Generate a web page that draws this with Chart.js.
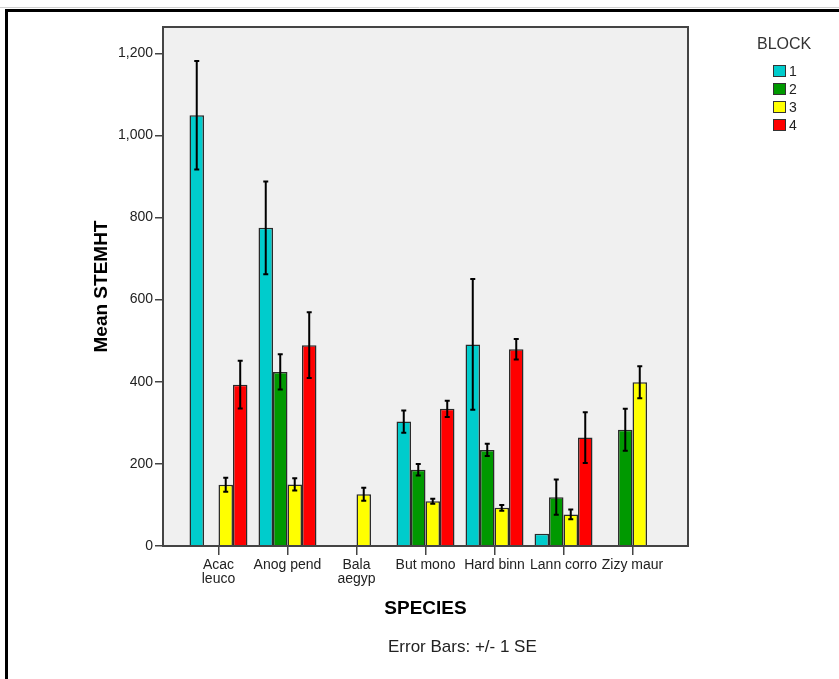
<!DOCTYPE html>
<html><head><meta charset="utf-8">
<script src="https://cdn.jsdelivr.net/npm/chart.js@4.4.1/dist/chart.umd.min.js"></script>
<style>html,body{margin:0;padding:0;background:#fff;}canvas{display:block;}</style>
</head><body><canvas id="c" width="839" height="679"></canvas>
<script>
// ---- data ----
const categories = ['Acac leuco','Anog pend','Bala aegyp','But mono','Hard binn','Lann corro','Zizy maur'];
const tickLabels = [['Acac','leuco'],'Anog pend',['Bala','aegyp'],'But mono','Hard binn','Lann corro','Zizy maur'];
const blockNames = ['1','2','3','4'];
const block1 = [1049, 775, null, 303, 491, 30, null];
const se1    = [132, 113, null, 27, 159, null, null];
const block2 = [null, 424, null, 186, 234, 119, 283];
const se2    = [null, 43, null, 14, 15, 43, 51];
const block3 = [149, 150, 126, 109, 93, 77, 399];
const se3    = [17, 15, 16, 6, 7, 12, 39];
const block4 = [393, 489, null, 334, 479, 264, null];
const se4    = [58, 80, null, 20, 25, 62, null];
const yTicks = [0, 200, 400, 600, 800, 1000, 1200];
const yTitle = 'Mean STEMHT';
const xTitle = 'SPECIES';
const legendTitle = 'BLOCK';
const note = 'Error Bars: +/- 1 SE';

const colors = ['#00CCCC', '#009900', '#FFFF00', '#FF0000'];
const FONT = "'Liberation Sans', Arial, sans-serif";
Chart.defaults.font.family = FONT;

const means = [block1, block2, block3, block4];
const ses = [se1, se2, se3, se4];

const datasets = means.map((arr, k) => ({
  label: blockNames[k],
  data: arr.map((v, i) => ({x: i, y: v})),
  means: arr,
  se: ses[k],
  backgroundColor: colors[k],
  borderColor: '#2a2a2a',
  borderWidth: 1.5,
  categoryPercentage: 0.84,
  barPercentage: 1.0
}));

const errorBars = {
  id: 'errorBars',
  afterDatasetsDraw(chart) {
    const ctx = chart.ctx, ys = chart.scales.y;
    chart.data.datasets.forEach((ds, i) => {
      const meta = chart.getDatasetMeta(i);
      meta.data.forEach((el, j) => {
        const m = ds.means[j], e = ds.se[j];
        if (m == null || e == null) return;
        const x = el.x, y1 = ys.getPixelForValue(m + e), y2 = ys.getPixelForValue(m - e);
        ctx.save();
        ctx.strokeStyle = '#000'; ctx.lineWidth = 2;
        ctx.beginPath();
        ctx.moveTo(x, y1); ctx.lineTo(x, y2);
        ctx.moveTo(x - 2.5, y1); ctx.lineTo(x + 2.5, y1);
        ctx.moveTo(x - 2.5, y2); ctx.lineTo(x + 2.5, y2);
        ctx.stroke();
        ctx.restore();
      });
    });
  }
};

const decor = {
  id: 'decor',
  beforeDraw(chart) {
    const ctx = chart.ctx, a = chart.chartArea;
    ctx.save();
    ctx.fillStyle = '#fff'; ctx.fillRect(0, 0, chart.width, chart.height);
    ctx.strokeStyle = '#d0d0d0'; ctx.lineWidth = 1;
    ctx.beginPath(); ctx.moveTo(0, 7.5); ctx.lineTo(chart.width, 7.5); ctx.stroke();
    ctx.fillStyle = '#000';
    ctx.fillRect(5, 9, chart.width - 5, 3);
    ctx.fillRect(5, 9, 3, chart.height - 9);
    ctx.fillStyle = '#F0F0F0';
    ctx.fillRect(a.left, a.top, a.right - a.left, a.bottom - a.top);
    ctx.restore();
  },
  afterDraw(chart) {
    const ctx = chart.ctx, a = chart.chartArea;
    ctx.save();
    ctx.strokeStyle = '#444'; ctx.lineWidth = 2;
    ctx.strokeRect(a.left, a.top, a.right - a.left, a.bottom - a.top);
    ctx.fillStyle = '#333';
    ctx.font = '16px ' + FONT;
    ctx.textAlign = 'left'; ctx.textBaseline = 'middle';
    ctx.fillText(legendTitle, 757, 45);
    const ys = [71, 89, 107, 125];
    ctx.font = '14px ' + FONT;
    blockNames.forEach((n, k) => {
      ctx.fillStyle = colors[k];
      ctx.fillRect(773, ys[k] - 6, 13, 12);
      ctx.strokeStyle = '#333'; ctx.lineWidth = 1;
      ctx.strokeRect(773.5, ys[k] - 5.5, 12, 11);
      ctx.fillStyle = '#222';
      ctx.fillText(n, 789, ys[k] + 1);
    });
    ctx.font = '17px ' + FONT;
    ctx.fillStyle = '#222';
    ctx.textAlign = 'left';
    ctx.fillText(note, 388, 647);
    ctx.restore();
  }
};

new Chart(document.getElementById('c'), {
  type: 'bar',
  data: { datasets },
  plugins: [decor, errorBars],
  options: {
    responsive: false,
    animation: false,
    devicePixelRatio: 1,
    layout: { padding: { top: 27, right: 151, left: 0, bottom: 0 } },
    plugins: { legend: { display: false }, tooltip: { enabled: false } },
    scales: {
      x: {
        type: 'linear',
        offset: false,
        min: -0.804, max: 6.804,
        afterBuildTicks: s => { s.ticks = categories.map((c, i) => ({value: i})); },
        afterFit: s => { s.height = 133; },
        ticks: {
          autoSkip: false, maxRotation: 0, padding: 3,
          color: '#222',
          font: { size: 14, lineHeight: 1.0 },
          callback: v => tickLabels[v]
        },
        grid: { offset: false, drawOnChartArea: false, drawTicks: true, tickLength: 9, tickColor: '#444', lineWidth: 1.5 },
        border: { display: false },
        title: { display: true, text: xTitle, color: '#000', font: { size: 19, weight: 'bold', lineHeight: 1.2 }, padding: { top: 0, bottom: 58.6 } }
      },
      y: {
        min: 0, max: 1264,
        afterBuildTicks: s => { s.ticks = yTicks.map(v => ({value: v})); },
        afterFit: s => { s.width = 163; },
        ticks: {
          padding: 2, color: '#222', font: { size: 14 },
          callback: v => v.toLocaleString('en-US')
        },
        grid: { drawOnChartArea: false, drawTicks: true, tickLength: 8, tickColor: '#444', lineWidth: 1.5 },
        border: { display: false },
        title: { display: true, text: yTitle, color: '#000', font: { size: 19, weight: 'bold', lineHeight: 1.2 }, padding: { top: 90.6, bottom: 0 } }
      }
    }
  }
});
</script>
</body></html>
